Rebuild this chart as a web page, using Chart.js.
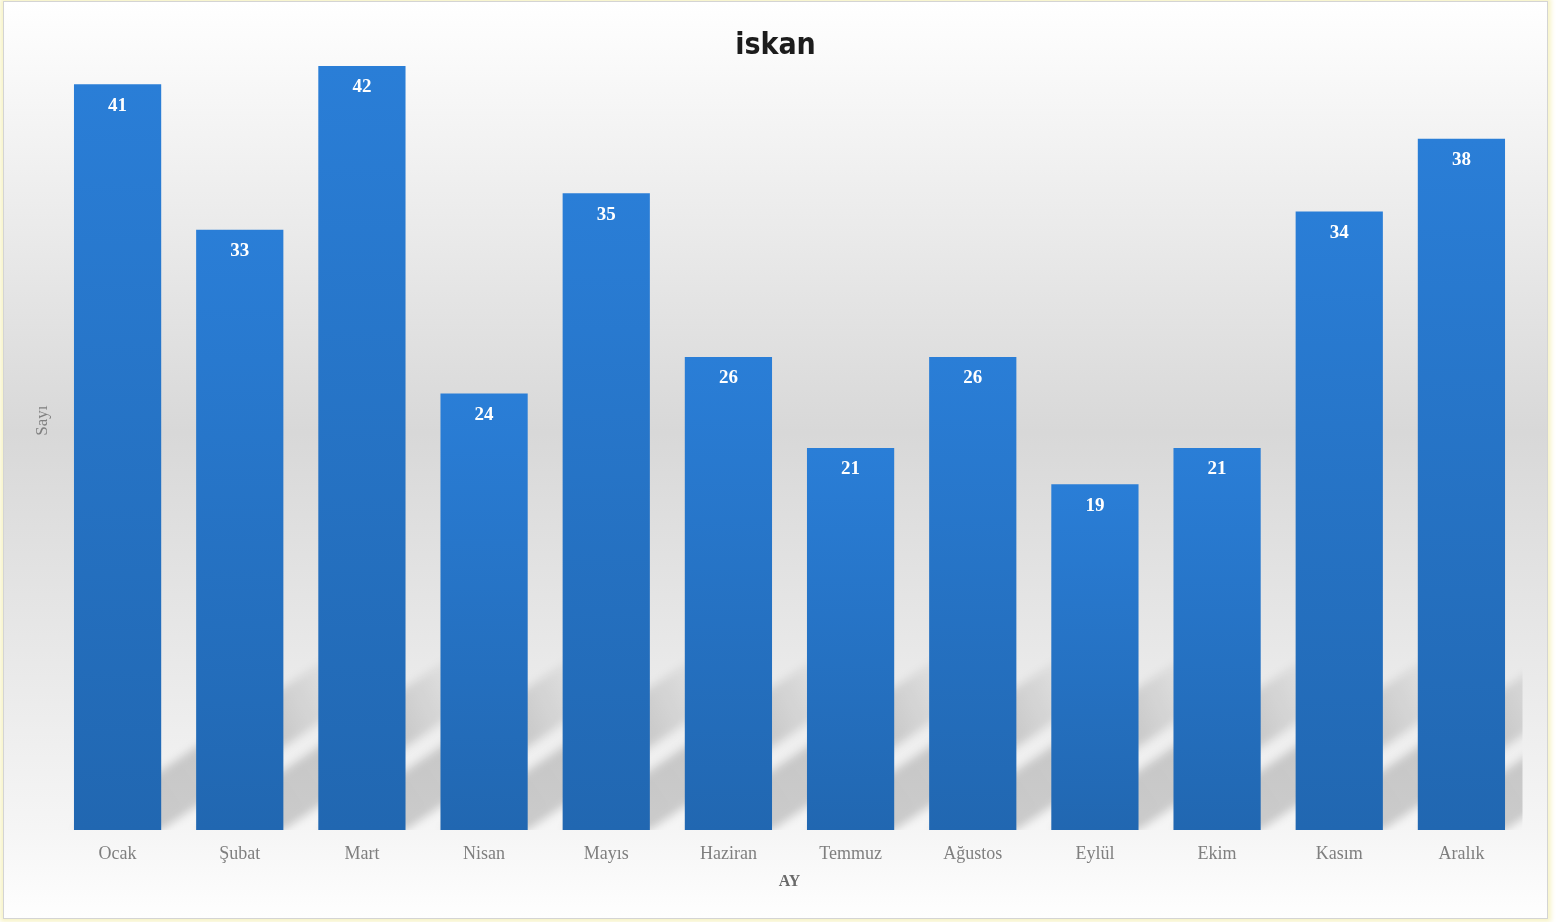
<!DOCTYPE html>
<html><head><meta charset="utf-8">
<script src="https://cdn.jsdelivr.net/npm/chart.js@4"></script>
<style>
html,body{margin:0;padding:0;background:#fff;}
body{width:1558px;height:922px;overflow:hidden;position:relative;}
#card{position:absolute;left:4px;top:2px;width:1543px;height:916px;
  background:linear-gradient(to bottom,#ffffff 0%,#d8d8d8 47%,#f5f5f5 90%,#fefefe 100%);
  outline:1px solid #d4d4d4;box-shadow:0 0 5px 4px #f7f3c6;}
canvas{display:block;}
</style></head>
<body>
<div id="card"><canvas id="c" width="1543" height="916"></canvas></div>
<script>
const titleText = 'iskan';
const categories = ['Ocak','Şubat','Mart','Nisan','Mayıs','Haziran','Temmuz','Ağustos','Eylül','Ekim','Kasım','Aralık'];
const values = [41,33,42,24,35,26,21,26,19,21,34,38];
const xAxisTitle = 'AY';
const yAxisTitle = 'Sayı';
const yMax = 45;

function barGradient(c){
  const chart = c.chart; const area = chart.chartArea;
  if(!area || c.raw === undefined) return '#2573c4';
  const ys = chart.scales.y;
  const top = ys.getPixelForValue(c.raw), base = ys.getPixelForValue(0);
  const g = chart.ctx.createLinearGradient(0, top, 0, base);
  g.addColorStop(0, '#2a7ed7');
  g.addColorStop(1, '#2167b1');
  return g;
}

const shadowPlugin = {
  id:'barShadow',
  beforeDatasetsDraw(chart){
    const ctx = chart.ctx, a = chart.chartArea;
    const meta = chart.getDatasetMeta(0);
    ctx.save();
    ctx.beginPath(); ctx.rect(a.left, a.top, a.right-a.left, a.bottom-a.top); ctx.clip();
    ctx.filter = 'blur(4px)';
    const L = 270, s = 0.68;
    meta.data.forEach(bar=>{
      const x0 = bar.x - bar.width/2, x1 = bar.x + bar.width/2, b = bar.base;
      const g = ctx.createLinearGradient(x0, b, x0 + L, b - s*L);
      g.addColorStop(0, 'rgba(0,0,0,0.19)');
      g.addColorStop(0.7, 'rgba(0,0,0,0.15)');
      g.addColorStop(1, 'rgba(0,0,0,0)');
      ctx.fillStyle = g;
      ctx.beginPath();
      ctx.moveTo(x0, b); ctx.lineTo(x1, b);
      ctx.lineTo(x1 + L, b - s*L); ctx.lineTo(x0 + L, b - s*L);
      ctx.closePath(); ctx.fill();
    });
    ctx.restore();
  }
};

const labelPlugin = {
  id:'barLabels',
  afterDatasetsDraw(chart){
    const ctx = chart.ctx;
    const meta = chart.getDatasetMeta(0);
    ctx.save();
    ctx.fillStyle = '#ffffff';
    ctx.font = 'bold 19px "Liberation Serif", "DejaVu Serif", serif';
    ctx.textAlign = 'center'; ctx.textBaseline = 'middle';
    meta.data.forEach((bar,i)=>{ ctx.fillText(String(values[i]), bar.x, bar.y + 21.5); });
    ctx.restore();
  }
};

const titlePlugin = {
  id:'topTitle',
  afterDraw(chart){
    const ctx = chart.ctx;
    ctx.save();
    ctx.fillStyle = '#1c1c1c';
    ctx.font = 'bold 30px "DejaVu Sans Condensed","Liberation Sans Narrow","Liberation Sans",sans-serif';
    ctx.textAlign = 'center'; ctx.textBaseline = 'middle';
    ctx.fillText(titleText, chart.width/2, 44);
    ctx.restore();
  }
};

new Chart(document.getElementById('c'), {
  type:'bar',
  data:{labels:categories, datasets:[{data:values, backgroundColor:barGradient, borderWidth:0, barPercentage:0.714, categoryPercentage:1}]},
  options:{
    responsive:false, animation:false,
    layout:{padding:{left:20, right:24.5, top:9.4, bottom:18}},
    plugins:{ legend:{display:false}, tooltip:{enabled:false}, title:{display:false} },
    scales:{
      x:{grid:{display:false}, border:{display:false},
        ticks:{color:'#7f7f7f', font:{family:'"Liberation Serif","DejaVu Serif",serif', size:18}, padding:5, maxRotation:0, autoSkip:false},
        title:{display:true, text:xAxisTitle, color:'#6a6a6a', font:{family:'"Liberation Serif","DejaVu Serif",serif', size:16, weight:'bold', lineHeight:1.2}, padding:{top:0,bottom:8.4}},
        afterFit(s){ s.height = 70; }},
      y:{min:0, max:yMax, grid:{display:false}, border:{display:false}, ticks:{display:false},
        title:{display:true, text:yAxisTitle, color:'#7f7f7f', font:{family:'"Liberation Serif","DejaVu Serif",serif', size:17, lineHeight:1.2}, padding:{top:8,bottom:0}},
        afterFit(s){ s.width = 32.5; }}
    }
  },
  plugins:[shadowPlugin, labelPlugin, titlePlugin]
});
</script>
</body></html>
